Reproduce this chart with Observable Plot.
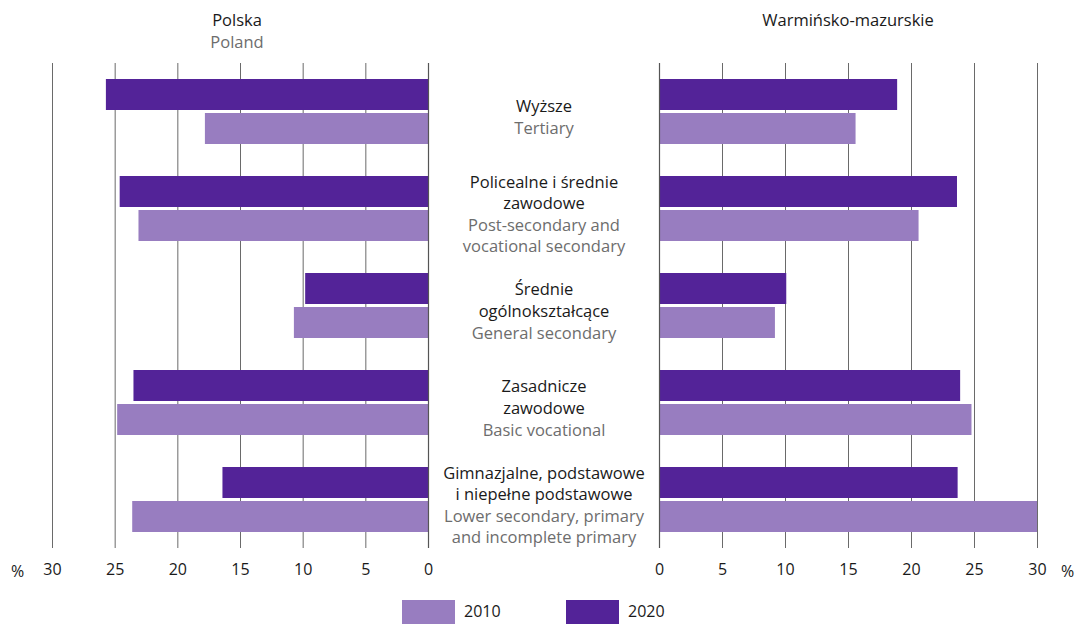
<!DOCTYPE html>
<html>
<head>
<meta charset="utf-8">
<script src="https://cdn.jsdelivr.net/npm/d3@7"></script>
<script src="https://cdn.jsdelivr.net/npm/@observablehq/plot@0.6"></script>
<style>
  body { margin: 0; background: #fff; }
  #root { position: relative; width: 1079px; height: 624px; overflow: hidden; font-family: "Open Sans", "Noto Sans", sans-serif; }
  .abs { position: absolute; white-space: nowrap; }
  .title { font-size: 16.5px; color: #1a1a1a; text-align: center; line-height: 22px; }
  .sub { color: #6d6d6d; }
  .pct { font-size: 16px; color: #1a1a1a; }
  .leg { font-size: 16px; color: #1a1a1a; }
</style>
</head>
<body>
<div id="root"></div>
<script>
// ---- data ----
const categories = ["Wyższe", "Policealne", "Średnie", "Zasadnicze", "Gimnazjalne"];
const labelsPl = [
  "Wyższe",
  "Policealne i średnie\nzawodowe",
  "Średnie\nogólnokształcące",
  "Zasadnicze\nzawodowe",
  "Gimnazjalne, podstawowe\ni niepełne podstawowe"
];
const labelsEn = [
  "Tertiary",
  "Post-secondary and\nvocational secondary",
  "General secondary",
  "Basic vocational",
  "Lower secondary, primary\nand incomplete primary"
];
const years = ["2010", "2020"];
const polska2010 = [17.8, 23.1, 10.7, 24.8, 23.6];
const polska2020 = [25.7, 24.6, 9.8, 23.5, 16.4];
const wm2010 = [15.6, 20.6, 9.2, 24.8, 30.0];
const wm2020 = [18.9, 23.65, 10.1, 23.9, 23.7];
const xTicks = [0, 5, 10, 15, 20, 25, 30];
const colors = ["#987dc0", "#532398"];
const panelTitles = { left: ["Polska", "Poland"], right: ["Warmińsko-mazurskie"] };

// ---- helpers ----
function rows(v2010, v2020) {
  const out = [];
  categories.forEach((c, i) => {
    out.push({ category: c, year: "2020", value: v2020[i] });
    out.push({ category: c, year: "2010", value: v2010[i] });
  });
  return out;
}

const FONT = "'Open Sans', 'Noto Sans', sans-serif";
const H = 585, MT = 63, MB = 37;
const common = {
  height: H,
  marginTop: MT,
  marginBottom: MB,
  style: { fontFamily: FONT, fontSize: "16px", color: "#1a1a1a", background: "transparent", overflow: "visible" },
  fy: { domain: categories, padding: 0, axis: null },
  y: { domain: ["2020", "2010"], paddingInner: 0.088, paddingOuter: 0.47, axis: null },
  color: { domain: years, range: colors },
  facet: { marginTop: 0, marginBottom: 0 }
};

function panel(data, reverse, width, ml, mr) {
  return Plot.plot({
    ...common,
    width,
    marginLeft: ml,
    marginRight: mr,
    x: { domain: [0, 30], reverse, ticks: xTicks, tickSize: 0, tickPadding: 15, label: null },
    marks: [
      Plot.gridX(xTicks, { stroke: "#6a6a6a", strokeOpacity: 1, strokeWidth: 1 }),
      Plot.barX(data, { x: "value", y: "year", fy: "category", fill: "year", inset: 0 }),
      Plot.ruleX([0], { stroke: "#555", strokeWidth: 1.2 })
    ]
  });
}

const root = document.getElementById("root");

const left = panel(rows(polska2010, polska2020), true, 440, 52, 12);
left.classList.add("abs"); left.style.left = "0px"; left.style.top = "0px";
root.appendChild(left);

const right = panel(rows(wm2010, wm2020), false, 432, 12, 42);
right.classList.add("abs"); right.style.left = "647px"; right.style.top = "0px";
root.appendChild(right);

// middle labels
const LH = 21.6, OFF = 4, LFS = 16.5;
const labelData = categories.map((c, i) => ({ category: c, pl: labelsPl[i], en: labelsEn[i] }));
const labelMarks = labelData.flatMap(d => {
  const nPl = d.pl.split("\n").length, nEn = d.en.split("\n").length, n = nPl + nEn;
  const first = OFF - (n - 1) / 2 * LH;
  return [
    Plot.text([d], { fy: "category", text: "pl", frameAnchor: "middle", lineAnchor: "middle", lineHeight: LH / LFS,
      dy: first + (nPl - 1) / 2 * LH, fill: "#1a1a1a", fontSize: LFS }),
    Plot.text([d], { fy: "category", text: "en", frameAnchor: "middle", lineAnchor: "middle", lineHeight: LH / LFS,
      dy: first + (nPl + (nEn - 1) / 2) * LH, fill: "#6d6d6d", fontSize: LFS })
  ];
});
const mid = Plot.plot({
  ...common,
  width: 231,
  marginLeft: 0,
  marginRight: 0,
  x: { axis: null, domain: [0, 1] },
  marks: labelMarks
});
mid.classList.add("abs"); mid.style.left = "428px"; mid.style.top = "0px";
root.appendChild(mid);

// titles
function addDiv(cls, text, x, y, w, extra) {
  const el = document.createElement("div");
  el.className = "abs " + cls;
  el.textContent = text;
  el.style.left = x + "px"; el.style.top = y + "px";
  if (w) el.style.width = w + "px";
  if (extra) Object.assign(el.style, extra);
  root.appendChild(el);
  return el;
}
addDiv("title", panelTitles.left[0], 137, 9, 200);
addDiv("title sub", panelTitles.left[1], 137, 31, 200);
addDiv("title", panelTitles.right[0], 738, 9, 220);
addDiv("pct", "%", 11, 560);
addDiv("pct", "%", 1061, 560);

// legend
const legX = [402, 566];
years.forEach((yr, i) => {
  const sw = document.createElement("div");
  sw.className = "abs";
  Object.assign(sw.style, { left: legX[i] + "px", top: "600px", width: "53px", height: "24px", background: colors[i] });
  root.appendChild(sw);
  addDiv("leg", yr, legX[i] + 62, 600);
});
</script>
</body>
</html>
